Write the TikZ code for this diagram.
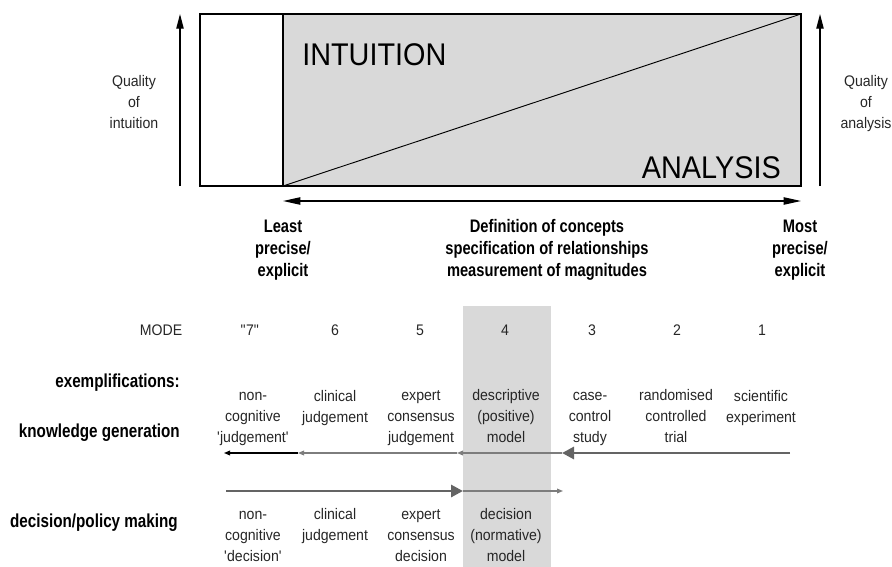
\documentclass[tikz,border=0pt]{standalone}
\usepackage{fontspec}
\setmainfont{Liberation Sans}[FakeStretch=0.92]
\newfontfamily\boldcond{Liberation Sans}[FakeStretch=0.81]
\usetikzlibrary{arrows.meta, positioning}
\definecolor{shadegray}{RGB}{217,217,217}
\definecolor{flowgray}{RGB}{100,100,100}
\definecolor{thingray}{RGB}{125,125,125}

\begin{document}
\begin{tikzpicture}[
    x=0.75pt, y=-0.75pt,
    txt/.style={font=\fontsize{11.5}{15.4}\selectfont, align=center, inner sep=0pt, anchor=base, text=black!85},
    headtxt/.style={font=\boldcond\bfseries\fontsize{13.6}{16.5}\selectfont, align=center, inner sep=0pt, anchor=base},
    rowtxt/.style={font=\boldcond\bfseries\fontsize{14.1}{17}\selectfont, inner sep=0pt, anchor=base east},
    bigtxt/.style={font=\fontsize{23.5}{28}\selectfont, inner sep=0pt},
    axis/.style={-{Triangle[length=11pt, width=5.5pt]}, line width=0.9pt},
    thickflow/.style={-{Triangle[length=9pt, width=9pt]}, line width=2.2pt, draw=flowgray},
    thinflow/.style={-{Triangle[length=4.5pt, width=3.5pt]}, line width=0.9pt, draw=thingray}
]
    \useasboundingbox (0,0) rectangle (892,567);

    % shaded mode 4 column
    \fill[shadegray] (463,306) rectangle (551,567);

    % intuition / analysis box
    \fill[shadegray] (283,14) rectangle (801,186);
    \draw[line width=0.9pt] (200,14) rectangle (801,186);
    \draw[line width=0.9pt] (283,14) -- (283,186);
    \coordinate (diagA) at (283,186);
    \coordinate (diagB) at (801,14);
    \draw[line width=0.7pt] (diagA) -- (diagB);
    \node[bigtxt, anchor=base west] (intuition) at (302,66) {INTUITION};
    \node[bigtxt, anchor=base east] (analysis) at (781,178) {ANALYSIS};

    % quality axes (base = last line)
    \coordinate (qiBot) at (180,186);
    \coordinate (qiTop) at (180,14);
    \coordinate (qaBot) at (820,186);
    \coordinate (qaTop) at (820,14);
    \draw[axis] (qiBot) -- (qiTop);
    \draw[axis] (qaBot) -- (qaTop);
    \node[txt] (qint) at (134,128) {Quality\\of\\intuition};
    \node[txt] (qana) at (866,128) {Quality\\of\\analysis};

    % precision scale
    \coordinate (precL) at (283,201);
    \coordinate (precR) at (801,201);
    \draw[axis, {Triangle[length=13pt, width=5.5pt]}-{Triangle[length=13pt, width=5.5pt]}] (precL) -- (precR);
    \node[headtxt] (least) at (283,276) {Least\\precise/\\explicit};
    \node[headtxt] (defs) at (547,276) {Definition of concepts\\specification of relationships\\measurement of magnitudes};
    \node[headtxt] (most) at (800,276) {Most\\precise/\\explicit};

    % mode row
    \node[txt] (mode) at (161,335) {MODE};
    \node[txt] (m7) at (250,335) {\textquotedbl 7\textquotedbl};
    \node[txt] (m6) at (335,335) {6};
    \node[txt] (m5) at (420,335) {5};
    \node[txt] (m4) at (505,335) {4};
    \node[txt] (m3) at (592,335) {3};
    \node[txt] (m2) at (677,335) {2};
    \node[txt] (m1) at (762,335) {1};

    % row labels
    \node[rowtxt] (exempl) at (180,387) {exemplifications:};
    \node[rowtxt] (knowgen) at (180,437) {knowledge generation};
    \node[rowtxt] (decpol) at (178,527) {decision/policy making};

    % knowledge generation
    \node[txt] (kg7) at (253,442) {non-\\cognitive\\\textquotesingle judgement\textquotesingle};
    \node[txt] (kg6) at (335,422) {clinical\\judgement};
    \node[txt] (kg5) at (421,442) {expert\\consensus\\judgement};
    \node[txt] (kg4) at (506,442) {descriptive\\(positive)\\model};
    \node[txt] (kg3) at (590,442) {case-\\control\\study};
    \node[txt] (kg2) at (676,442) {randomised\\controlled\\trial};
    \node[txt] (kg1) at (761,422) {scientific\\experiment};

    \coordinate (k1) at (790,453);
    \coordinate (k2) at (562,453);
    \coordinate (k3) at (457,453);
    \coordinate (k4) at (298,453);
    \coordinate (k5) at (224,453);
    \draw[thickflow] (k1) -- (k2);
    \draw[thinflow] (k2) -- (k3);
    \draw[thinflow] (k3) -- (k4);
    \draw[thinflow, draw=black] (k4) -- (k5);

    % decision / policy making
    \coordinate (d1) at (226,491);
    \coordinate (d2) at (463,491);
    \coordinate (d3) at (563,491);
    \draw[thickflow] (d1) -- (d2);
    \draw[thinflow] (d2) -- (d3);

    \node[txt] (dp7) at (253,561) {non-\\cognitive\\\textquotesingle decision\textquotesingle};
    \node[txt] (dp6) at (335,540) {clinical\\judgement};
    \node[txt] (dp5) at (421,561) {expert\\consensus\\decision};
    \node[txt] (dp4) at (506,561) {decision\\(normative)\\model};
\end{tikzpicture}
\end{document}
